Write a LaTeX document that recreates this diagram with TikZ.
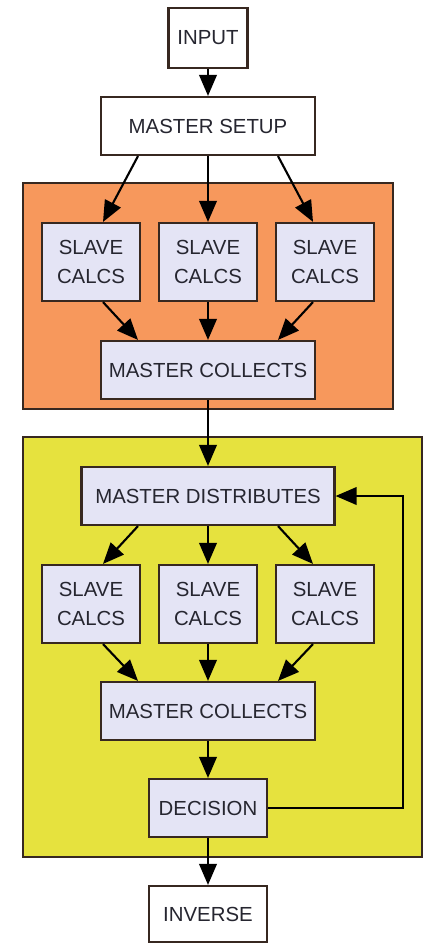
\documentclass[tikz,border=0pt]{standalone}
\usepackage{fontspec}
\setmainfont{Liberation Sans}
\usetikzlibrary{arrows.meta,calc}

\definecolor{boxfill}{RGB}{228,228,245}
\definecolor{boxline}{RGB}{55,40,32}
\definecolor{stageone}{RGB}{247,152,92}
\definecolor{stagetwo}{RGB}{230,226,62}
\definecolor{labeltext}{RGB}{38,38,48}

\tikzset{
  plainbox/.style={draw=boxline, line width=1.5pt, fill=white, text=labeltext,
    inner sep=0pt, minimum height=1.45cm, align=center,
    font=\fontsize{14.5}{21}\selectfont},
  calcbox/.style={plainbox, fill=boxfill},
  slavebox/.style={calcbox, minimum width=2.45cm, minimum height=1.95cm},
  stagebox/.style={draw=boxline, line width=1.5pt},
  flow/.style={draw=black, line width=1.5pt, -{Triangle[length=15pt,width=12.5pt]}}
}

\begin{document}
\begin{tikzpicture}[x=0.025cm, y=-0.025cm]
    \useasboundingbox (0,0) rectangle (425,943);

    % Stage backgrounds
    \draw[stagebox, fill=stageone] (23,183) rectangle (393,409);
    \draw[stagebox, fill=stagetwo] (23,437) rectangle (422,857);

    % Master steps
    \node[plainbox, minimum width=1.975cm, minimum height=1.5cm] (input) at (208,38) {INPUT};
    \node[plainbox, minimum width=5.35cm] (setup) at (208,126) {MASTER SETUP};
    \node[calcbox, minimum width=5.35cm] (collectA) at (208,370) {MASTER COLLECTS};
    \node[calcbox, minimum width=6.325cm] (distribute) at (208,496) {MASTER DISTRIBUTES};
    \node[calcbox, minimum width=5.35cm] (collectB) at (208,711) {MASTER COLLECTS};
    \node[calcbox, minimum width=2.95cm] (decision) at (208,808) {DECISION};
    \node[plainbox, minimum width=2.95cm, minimum height=1.4cm] (inverse) at (208,914) {INVERSE};

    % Slave calcs and their connectors
    \foreach \xpos/\dx/\dy [count=\i] in {91/-70/12, 208/0/0, 325/70/-12} {
        \node[slavebox] (slaveA\i) at (\xpos,262) {SLAVE\\CALCS};
        \node[slavebox] (slaveB\i) at (\xpos,604) {SLAVE\\CALCS};

        \draw[flow] ($(setup.south)+(\dx,0)$) -- ($(slaveA\i.north)+(\dy,0)$);
        \draw[flow] ($(slaveA\i.south)+(\dy,0)$) -- ($(collectA.north)+(\dx,0)$);
        \draw[flow] ($(distribute.south)+(\dx,0)$) -- ($(slaveB\i.north)+(\dy,0)$);
        \draw[flow] ($(slaveB\i.south)+(\dy,0)$) -- ($(collectB.north)+(\dx,0)$);
    }

    % Main line
    \draw[flow] (input) -- (setup);
    \draw[flow] (collectA) -- (distribute);
    \draw[flow] (collectB) -- (decision);
    \draw[flow] (decision) -- (inverse);

    % Loop back
    \coordinate (loop) at (403,650);
    \draw[flow] (decision.east) -| (loop) |- (distribute.east);

\end{tikzpicture}
\end{document}
